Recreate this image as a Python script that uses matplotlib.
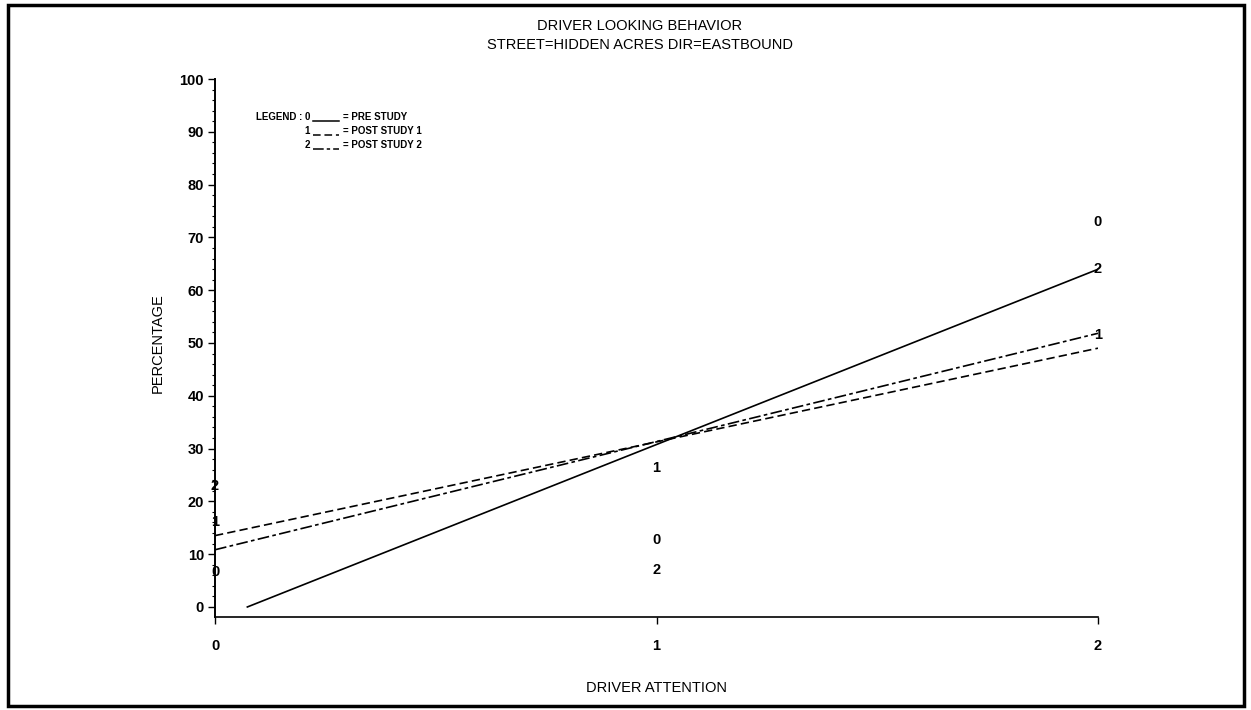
import numpy as np
import matplotlib
matplotlib.use('Agg')
import matplotlib.pyplot as plt
from matplotlib.ticker import MultipleLocator
from matplotlib.patches import Rectangle
from matplotlib.lines import Line2D

# data
attention = [0, 1, 2]
pre_study = [6.6, 12.7, 73.0]
post_study_1 = [16.0, 26.3, 51.5]
post_study_2 = [23.0, 7.0, 64.0]
series_symbols = ['0', '1', '2']
series_names = ['PRE STUDY', 'POST STUDY 1', 'POST STUDY 2']
y_ticks = [0, 10, 20, 30, 40, 50, 60, 70, 80, 90, 100]

FONT = ['Liberation Sans Narrow', 'Liberation Sans', 'DejaVu Sans']
plt.rcParams['font.family'] = FONT

W, H = 1251, 710
fig = plt.figure(figsize=(W / 100, H / 100), dpi=100)
ax = fig.add_axes([215 / W, 1 - 617 / H, (1098 - 215) / W, (617 - 79) / H])

styles = [dict(linestyle='-'),
          dict(linestyle=(0, (5, 2.5))),
          dict(linestyle=(0, (7, 2, 2.2, 2)))]
series = [pre_study, post_study_1, post_study_2]

x = np.array(attention, dtype=float)
for vals, sym, st in zip(series, series_symbols, styles):
    # regression line, clipped to the vertical axis range
    m, b = np.polyfit(x, vals, 1)
    x0 = max(x[0], -b / m) if m > 0 else x[0]
    xs = np.array([x0, x[-1]])
    ax.plot(xs, m * xs + b, color='black', lw=1.2, **st)
    for xi, yi in zip(x, vals):
        ax.text(xi, yi, sym, ha='center', va='center', fontsize=10.5,
                fontweight='bold', clip_on=False)

ax.set_xlim(0, 2)
ax.set_ylim(-1.9, 100)
ax.set_xticks(attention)
ax.set_xticklabels([str(a) for a in attention])
ax.set_yticks(y_ticks)
ax.yaxis.set_minor_locator(MultipleLocator(2))
for s in ['top', 'right']:
    ax.spines[s].set_visible(False)
ax.spines['left'].set_bounds(-1.9, 100)
ax.spines['left'].set_linewidth(1.4)
ax.spines['bottom'].set_linewidth(1.2)
ax.tick_params(axis='y', which='major', length=5, width=1, pad=3, labelsize=10.5)
ax.tick_params(axis='y', which='minor', length=2.5, width=0.8)
ax.tick_params(axis='x', length=5, width=1, pad=11, labelsize=10.5)
for lab in ax.get_xticklabels() + ax.get_yticklabels():
    lab.set_fontweight('bold')

fig.text(640 / W, 1 - 26 / H, 'DRIVER LOOKING BEHAVIOR', ha='center', va='center',
         fontsize=10.5)
fig.text(640 / W, 1 - 45 / H, 'STREET=HIDDEN ACRES DIR=EASTBOUND', ha='center',
         va='center', fontsize=10.5)
fig.text(158 / W, 1 - 343 / H, 'PERCENTAGE', rotation=90, ha='center', va='center',
         fontsize=10.5)
fig.text(656 / W, 1 - 688 / H, 'DRIVER ATTENTION', ha='center', va='center',
         fontsize=10.5)

# legend block
rows_y = [117, 131, 145]
fig.text(256 / W, 1 - rows_y[0] / H, 'LEGEND :', ha='left', va='center',
         fontsize=7, fontweight='bold')
for ry, sym, name, st in zip(rows_y, series_symbols, series_names, styles):
    fig.text(307 / W, 1 - ry / H, sym, ha='center', va='center', fontsize=7,
             fontweight='bold')
    fig.add_artist(Line2D([313 / W, 339 / W], [1 - (ry + 4) / H] * 2,
                          transform=fig.transFigure, color='black', lw=1.1, **st))
    fig.text(343 / W, 1 - ry / H, '= ' + name, ha='left', va='center', fontsize=7,
             fontweight='bold')

# page border
fig.add_artist(Rectangle((8 / W, 4 / H), (1244 - 8) / W, (705 - 4) / H,
                         transform=fig.transFigure, fill=False, lw=2.5,
                         edgecolor='black'))

fig.savefig('out.png', dpi=100)
